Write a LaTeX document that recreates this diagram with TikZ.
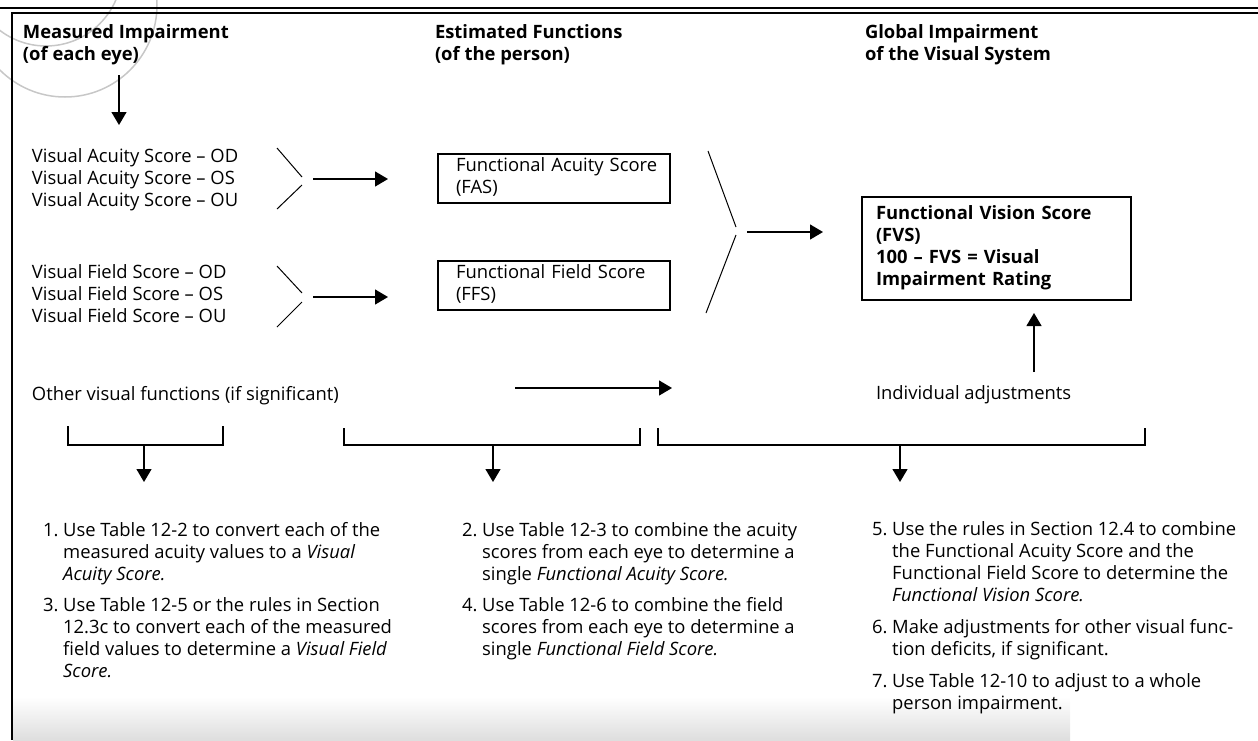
\documentclass[tikz,border=0pt]{standalone}
\usepackage{fontspec}
\setmainfont{Open Sans}
\usetikzlibrary{arrows.meta}
\newcommand{\lines}[1]{\begin{tabular}[t]{@{}l@{}}#1\end{tabular}}
\newcommand{\steps}[1]{\begin{tabular}[t]{@{}l@{\ }l@{}}#1\end{tabular}}

\begin{document}
\begin{tikzpicture}[x=0.5pt, y=-0.5pt,%
	every node/.style={inner sep=0pt, outer sep=0pt, font=\fontsize{9.2pt}{11pt}\selectfont},
	head/.style={anchor=base west, font=\fontsize{9.2pt}{11pt}\selectfont\bfseries},
	label/.style={anchor=base west},
	scorebox/.style={draw=black, line width=0.65pt, minimum width=116pt,
		minimum height=24.5pt, inner xsep=9pt, inner ysep=1pt, text width=98pt, align=left},
	arrow/.style={line width=0.65pt, arrows={-Triangle[length=6.5pt, width=7.5pt]}},%
	joinline/.style={line width=0.5pt},
	bracket/.style={line width=1pt},
	ring/.style={draw=black!22, line width=0.75pt}%
	]
	\useasboundingbox (0,0) rectangle (1258,740);
	%
	% Background
	%
	\begin{scope}
		\clip (0,0) rectangle (1258,740);
		\draw[ring] (46,-30) circle[radius=38pt];
		\draw[ring] (65,5) circle[radius=46pt];
	\end{scope}
	\shade[top color=white, bottom color=black!13] (13,697) rectangle (1070,740);
	\draw[line width=1pt] (0,8) -- (1258,8);
	\draw[line width=0.6pt] (1258,13) -| (12,740);
	%
	% Headings
	%
	\node[head] (MEASURED) at (23,38) {\lines{Measured Impairment\\(of each eye)}};
	\node[head] (ESTIMATED) at (435,38) {\lines{Estimated Functions\\(of the person)}};
	\node[head] (GLOBAL) at (865,38) {\lines{Global Impairment\\of the Visual System}};
	%
	% Scores
	%
	\node[label] (ACUITY) at (32,162) {\lines{Visual Acuity Score -- OD\\Visual Acuity Score -- OS\\Visual Acuity Score -- OU}};
	\node[label] (FIELD) at (32,278) {\lines{Visual Field Score -- OD\\Visual Field Score -- OS\\Visual Field Score -- OU}};
	\node[scorebox] (FAS) at (554,178.5) {\lines{Functional Acuity Score\\(FAS)}};
	\node[scorebox] (FFS) at (554,285.5) {\lines{Functional Field Score\\(FFS)}};
	\node[scorebox, minimum width=134.5pt, minimum height=51.5pt, inner xsep=7pt,
		text width=120.5pt, font=\fontsize{9.2pt}{11pt}\selectfont\bfseries] (FVS) at (996.5,248.5)
		{\lines{Functional Vision Score\\(FVS)\\100 -- FVS = Visual\\Impairment Rating}};
	\node[label] (OTHER) at (32,400) {Other visual functions (if significant)};
	\node[label] (ADJUST) at (876,399) {Individual adjustments};
	%
	% Joins and brackets
	%
	\draw[joinline] (277,148) -- (302,177) (302,185) -- (277,209);
	\draw[joinline] (277,266) -- (302,293) (302,302) -- (277,327);
	\draw[joinline] (708,151) -- (736,227) (736,235) -- (706,313);
	\draw[bracket] (68,426) |- (223,445) -- (223,426);
	\draw[bracket] (344,428) |- (640,445) -- (640,428);
	\draw[bracket] (658,428) |- (1145,445) -- (1145,428);
	%
	% Arrow ends
	%
	\coordinate (M1) at (119,75);   \coordinate (M2) at (119,125);
	\coordinate (A1) at (313,179);  \coordinate (A2) at (388,179);
	\coordinate (F1) at (313,297);  \coordinate (F2) at (388,297);
	\coordinate (V1) at (747,232);  \coordinate (V2) at (823,232);
	\coordinate (O1) at (515,388);  \coordinate (O2) at (672,388);
	\coordinate (U1) at (1034,372); \coordinate (U2) at (1034,313);
	\coordinate (B1) at (144,445);  \coordinate (C1) at (144,482);
	\coordinate (B2) at (493,445);  \coordinate (C2) at (493,482);
	\coordinate (B3) at (900,445);  \coordinate (C3) at (900,482);
	\path[arrow] (M1) edge (M2);
	\path[arrow] (A1) edge (A2);
	\path[arrow] (F1) edge (F2);
	\path[arrow] (V1) edge (V2);
	\path[arrow] (O1) edge (O2);
	\path[arrow] (U1) edge (U2);
	\path[arrow] (B1) edge (C1);
	\path[arrow] (B2) edge (C2);
	\path[arrow] (B3) edge (C3);
	%
	% Steps
	%
	\node[label] (STEPSA) at (43,536) {\steps{1. & Use Table 12-2 to convert each of the\\
		& measured acuity values to a \textit{Visual}\\
		& \textit{Acuity Score.}\\[4.5pt]
		3. & Use Table 12-5 or the rules in Section\\
		& 12.3c to convert each of the measured\\
		& field values to determine a \textit{Visual Field}\\
		& \textit{Score.}}};
	\node[label] (STEPSB) at (462,536) {\steps{2. & Use Table 12-3 to combine the acuity\\
		& scores from each eye to determine a\\
		& single \textit{Functional Acuity Score.}\\[4.5pt]
		4. & Use Table 12-6 to combine the field\\
		& scores from each eye to determine a\\
		& single \textit{Functional Field Score.}}};
	\node[label] (STEPSC) at (872,535) {\steps{5. & Use the rules in Section 12.4 to combine\\
		& the Functional Acuity Score and the\\
		& Functional Field Score to determine the\\
		& \textit{Functional Vision Score.}\\[5pt]
		6. & Make adjustments for other visual func-\\
		& tion deficits, if significant.\\[5pt]
		7. & Use Table 12-10 to adjust to a whole\\
		& person impairment.}};
\end{tikzpicture}
\end{document}
